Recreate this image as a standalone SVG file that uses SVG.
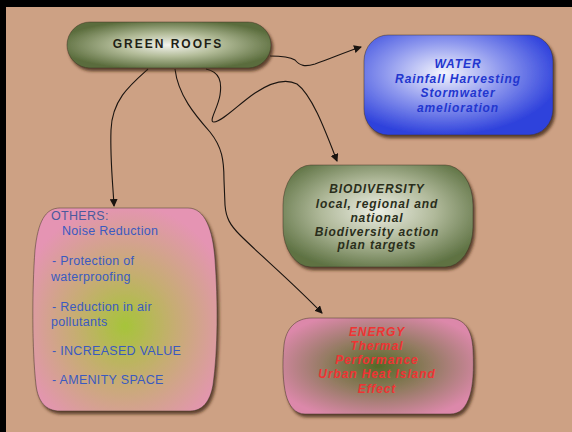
<svg xmlns="http://www.w3.org/2000/svg" width="572" height="432" viewBox="0 0 572 432">
<style>
.conn{fill:none;stroke:#1a1410;stroke-width:1.1;marker-end:url(#arr)}
.node{filter:url(#sh);stroke:#3a3022;stroke-width:0.8;stroke-opacity:0.6}
.t{font-family:"Liberation Sans",Arial,sans-serif;font-weight:bold;font-style:italic;font-size:12px;letter-spacing:0.9px;text-anchor:middle}
.o{font-family:"Liberation Sans",Arial,sans-serif;font-size:12.5px;fill:#3a5ac0;letter-spacing:0.3px}
</style>
<defs>
<marker id="arr" markerUnits="userSpaceOnUse" markerWidth="9" markerHeight="8" refX="7" refY="4" orient="auto">
<path d="M0,0 L8,4 L0,8 Z" fill="#1a1410"/>
</marker>
<filter id="sh" x="-10%" y="-10%" width="125%" height="130%">
<feDropShadow dx="2" dy="3" stdDeviation="1.6" flood-color="#3a2414" flood-opacity="0.75"/>
</filter>
<radialGradient id="gGreen" cx="0.5" cy="0.5" r="0.55">
<stop offset="0" stop-color="#f4f4ef"/>
<stop offset="0.45" stop-color="#b4bd9a"/>
<stop offset="1" stop-color="#5a6c3c"/>
</radialGradient>
<radialGradient id="gWater" cx="0.42" cy="0.38" r="0.62">
<stop offset="0" stop-color="#f4f5fd"/>
<stop offset="0.5" stop-color="#8e98ee"/>
<stop offset="1" stop-color="#2f42dc"/>
</radialGradient>
<radialGradient id="gBio" cx="0.5" cy="0.45" r="0.6">
<stop offset="0" stop-color="#eceee4"/>
<stop offset="0.5" stop-color="#b0b99a"/>
<stop offset="1" stop-color="#5e7243"/>
</radialGradient>
<radialGradient id="gEn" cx="0.5" cy="0.5" r="0.58">
<stop offset="0" stop-color="#556a28"/>
<stop offset="0.45" stop-color="#8f7a5e"/>
<stop offset="1" stop-color="#dc88aa"/>
</radialGradient>
<radialGradient id="gOth" cx="0.5" cy="0.58" r="0.6">
<stop offset="0" stop-color="#a6c43a"/>
<stop offset="0.45" stop-color="#c6ad72"/>
<stop offset="1" stop-color="#e594b3"/>
</radialGradient>
</defs>
<rect x="0" y="0" width="572" height="432" fill="#cda184"/>
<rect x="0" y="0" width="572" height="7" fill="#000"/>
<rect x="0" y="0" width="6" height="432" fill="#000"/>

<g id="connectors">
<path class="conn" d="M270 56 C282 56 290 57 295 60 C300 66 305 67 315 64 C330 59 345 52 361 47"/>
<path class="conn" d="M148 69 C130 85 112 100 111 130 C110 160 113 185 114 206"/>
<path class="conn" d="M175 69 C178 95 195 115 210 132 C222 147 224 160 224 180 L225 205 C226 218 230 225 240 235 C260 255 290 280 322 313"/>
<path class="conn" d="M206 69 C220 72 222 82 220 95 C218 108 208 122 214 122 C222 122 240 103 255 93 C270 83 285 78 297 84 C312 95 325 130 337 161"/>
</g>

<g id="green-roofs">
<rect class="node" x="67" y="22" width="204" height="46" rx="23" ry="23" fill="url(#gGreen)"/>
<text x="168" y="48" text-anchor="middle" font-family="'Liberation Sans',Arial,sans-serif" font-weight="bold" font-size="12" letter-spacing="2" fill="#1e2116">GREEN ROOFS</text>
</g>

<g id="water">
<rect class="node" x="364" y="35" width="189" height="100" rx="24" ry="26" fill="url(#gWater)"/>
<g class="t" fill="#2236cf">
<text x="458" y="68">WATER</text>
<text x="458" y="83">Rainfall Harvesting</text>
<text x="458" y="97">Stormwater</text>
<text x="458" y="112">amelioration</text>
</g>
</g>

<g id="biodiversity">
<rect class="node" x="283" y="165" width="190" height="102" rx="28" ry="40" fill="url(#gBio)"/>
<g class="t" fill="#2a2e1b">
<text x="377" y="193">BIODIVERSITY</text>
<text x="377" y="208">local, regional and</text>
<text x="377" y="222">national</text>
<text x="377" y="236">Biodiversity action</text>
<text x="377" y="249">plan targets</text>
</g>
</g>

<g id="energy">
<path class="node" d="M312 318 H448 C465 318 472 330 473 350 C474 370 473 385 470 395 C466 408 460 414 450 414 H305 C295 414 289 406 286 395 C283 383 282 365 284 345 C286 328 296 318 312 318 Z" fill="url(#gEn)"/>
<g class="t" fill="#ee3434">
<text x="377" y="336">ENERGY</text>
<text x="377" y="350">Thermal</text>
<text x="377" y="364">Performance</text>
<text x="377" y="378">Urban Heat Island</text>
<text x="377" y="393">Effect</text>
</g>
</g>

<g id="others">
<path class="node" d="M60 208 H188 C205 208 213 230 215 260 C218 300 218 350 213 385 C210 402 202 411 190 411 H60 C46 411 38 402 36 385 C32 350 32 290 35 250 C38 222 45 208 60 208 Z" fill="url(#gOth)"/>
<text class="o" x="51" y="220" fill="#4a5a9c" style="fill:#4a5a9c">OTHERS:</text>
<text class="o" x="62" y="235">Noise Reduction</text>
<text class="o" x="52" y="265">- Protection of</text>
<text class="o" x="51" y="281">waterproofing</text>
<text class="o" x="52" y="311">- Reduction in air</text>
<text class="o" x="51" y="326">pollutants</text>
<text class="o" x="52" y="355">- INCREASED VALUE</text>
<text class="o" x="52" y="384">- AMENITY SPACE</text>
</g>
</svg>
